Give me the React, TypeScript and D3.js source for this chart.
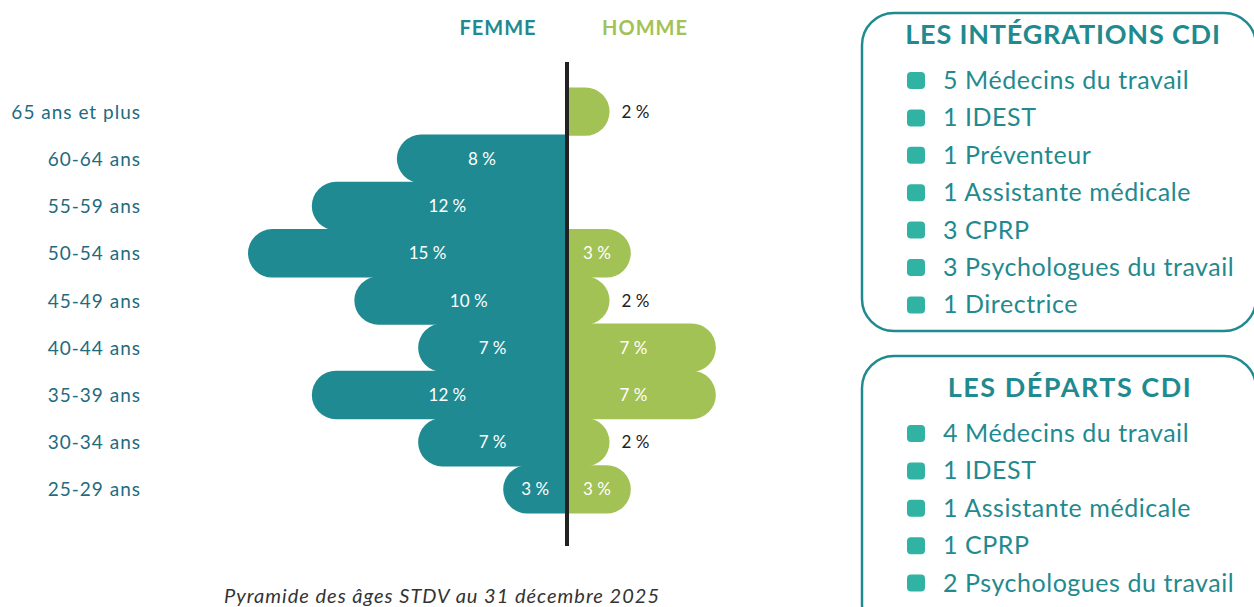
import React from "react";
import * as d3 from "d3";

const ageGroups = ["65 ans et plus", "60-64 ans", "55-59 ans", "50-54 ans", "45-49 ans", "40-44 ans", "35-39 ans", "30-34 ans", "25-29 ans"];
const femmeValues = [0, 8, 12, 15, 10, 7, 12, 7, 3];
const hommeValues = [2, 0, 0, 3, 2, 7, 7, 2, 3];

const integrationsTitle = "LES INTÉGRATIONS CDI";
const integrations = ["5 Médecins du travail", "1 IDEST", "1 Préventeur", "1 Assistante médicale", "3 CPRP", "3 Psychologues du travail", "1 Directrice"];
const departsTitle = "LES DÉPARTS CDI";
const departs = ["4 Médecins du travail", "1 IDEST", "1 Assistante médicale", "1 CPRP", "2 Psychologues du travail"];

const FONT = "Lato, 'Noto Sans', sans-serif";
const TEAL = "#1f8a92";
const GREEN = "#a3c255";
const LABEL = "#1f6b80";
const BOX = "#1f8a8f";
const BULLET = "#30b3a2";

export default function App() {
  const cx = 567;
  const y = d3.scaleBand<string>().domain(ageGroups).range([88, 513]).padding(0);
  const x = d3.scaleLinear().domain([0, 15]).range([0, 319]);
  const h = y.bandwidth();
  const r = h / 2;
  const ov = 0.6;

  const femPath = (v: number, yb: number) => {
    const w = x(v);
    const y0 = yb - ov;
    const y1 = yb + h + ov;
    const rr = (y1 - y0) / 2;
    return `M${cx},${y0} L${cx - w + rr},${y0} A${rr},${rr} 0 0 0 ${cx - w + rr},${y1} L${cx},${y1} Z`;
  };
  const homPath = (v: number, yb: number) => {
    const w = x(v);
    const y0 = yb - ov;
    const y1 = yb + h + ov;
    const rr = (y1 - y0) / 2;
    return `M${cx},${y0} L${cx + w - rr},${y0} A${rr},${rr} 0 0 1 ${cx + w - rr},${y1} L${cx},${y1} Z`;
  };

  const itemStep = 37.4;

  return (
    <svg width={1254} height={607} style={{ position: "absolute", left: 0, top: 0, background: "#fff" }} fontFamily={FONT}>
      {/* headers */}
      <text x={498} y={35} textAnchor="middle" fontSize={20} fontWeight={700} fill={TEAL} letterSpacing={1}>FEMME</text>
      <text x={645} y={35} textAnchor="middle" fontSize={20} fontWeight={700} fill={GREEN} letterSpacing={1}>HOMME</text>

      {/* row labels */}
      {ageGroups.map((g) => (
        <text key={g} x={141} y={(y(g) as number) + h / 2 + 7} textAnchor="end" fontSize={19} fill={LABEL} letterSpacing={1}>{g}</text>
      ))}

      {/* bars */}
      {ageGroups.map((g, i) => {
        const y0 = y(g) as number;
        const fv = femmeValues[i];
        const hv = hommeValues[i];
        return (
          <g key={g}>
            {fv > 0 && <path d={femPath(fv, y0)} fill={TEAL} />}
            {hv > 0 && <path d={homPath(hv, y0)} fill={GREEN} />}
          </g>
        );
      })}

      {/* value labels */}
      {ageGroups.map((g, i) => {
        const yc = (y(g) as number) + h / 2 + 6;
        const fv = femmeValues[i];
        const hv = hommeValues[i];
        const hInside = hv >= 3;
        return (
          <g key={g + "l"}>
            {fv > 0 && (
              <text x={cx - x(fv) / 2 + (fv >= 15 ? 20 : fv >= 10 ? 8 : 0)} y={yc} textAnchor="middle" fontSize={17} fill="#fff">{fv} %</text>
            )}
            {hv > 0 && (
              <text x={hInside ? cx + x(hv) / 2 - (hv >= 7 ? 8 : 2) : cx + x(hv) + 12} y={yc} textAnchor={hInside ? "middle" : "start"} fontSize={17} fill={hInside ? "#fff" : "#222"}>{hv} %</text>
            )}
          </g>
        );
      })}

      {/* axis */}
      <line x1={cx} x2={cx} y1={62} y2={546} stroke="#222" strokeWidth={4} />

      {/* caption */}
      <text x={442} y={603} textAnchor="middle" fontSize={20} fontStyle="italic" fill="#333" letterSpacing={1}>Pyramide des âges STDV au 31 décembre 2025</text>

      {/* box 1 */}
      <rect x={862} y={13} width={394} height={318} rx={32} fill="none" stroke={BOX} strokeWidth={2.5} />
      <text x={1063} y={44} textAnchor="middle" fontSize={27} fontWeight={700} fill={BOX} letterSpacing={0.8}>{integrationsTitle}</text>
      {integrations.map((t, i) => (
        <g key={t + i}>
          <rect x={907} y={72 + i * itemStep} width={18} height={17} rx={4} fill={BULLET} />
          <text x={943} y={89 + i * itemStep} fontSize={25} fill={BOX} letterSpacing={0.55}>{t}</text>
        </g>
      ))}

      {/* box 2 */}
      <rect x={862} y={356} width={394} height={280} rx={32} fill="none" stroke={BOX} strokeWidth={2.5} />
      <text x={1070} y={397} textAnchor="middle" fontSize={27} fontWeight={700} fill={BOX} letterSpacing={1.5}>{departsTitle}</text>
      {departs.map((t, i) => (
        <g key={t + i}>
          <rect x={907} y={425 + i * itemStep} width={18} height={17} rx={4} fill={BULLET} />
          <text x={943} y={442 + i * itemStep} fontSize={25} fill={BOX} letterSpacing={0.55}>{t}</text>
        </g>
      ))}
    </svg>
  );
}
